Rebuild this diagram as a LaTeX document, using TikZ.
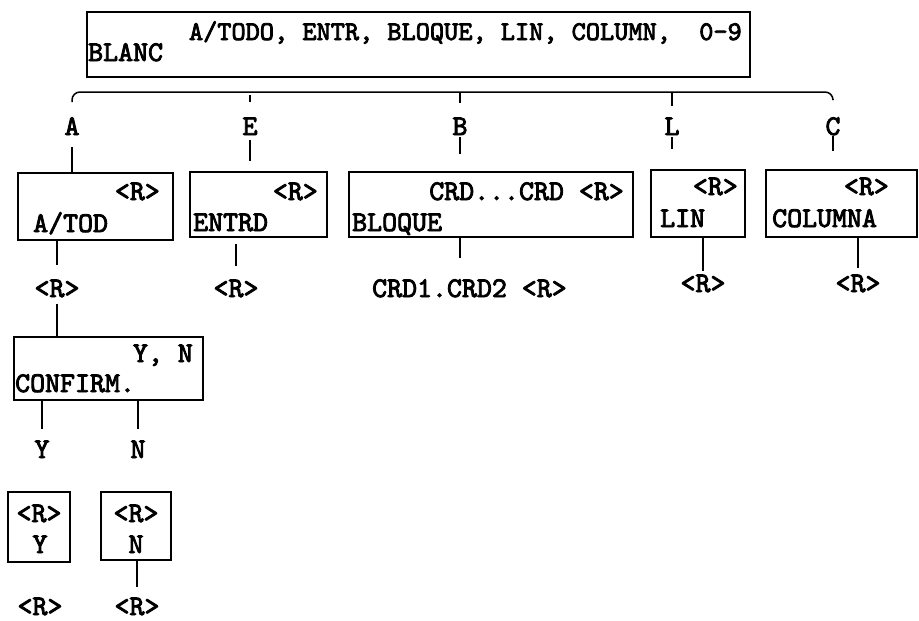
\documentclass[tikz,border=0pt]{standalone}
\usepackage{fontspec}
\newfontfamily\tw[FakeBold=3]{lmmono10-regular.otf}
\begin{document}
\frenchspacing
\begin{tikzpicture}[x=1pt,y=-1pt,
  box/.style={draw, line width=1.5pt, inner sep=0pt},
  txt/.style={inner sep=0pt, font=\fontsize{28.5}{28.5}\tw},
  toptxt/.style={inner sep=0pt, font=\fontsize{27}{27}\tw},
  conn/.style={line width=1.5pt}]
\useasboundingbox (0,0) rectangle (919,621);
% boxes
\node[box, minimum width=663pt, minimum height=65pt] (top) at (418.5,44.5) {};
\node[box, minimum width=155pt, minimum height=67pt] (boxA) at (95.5,206.5) {};
\node[box, minimum width=137pt, minimum height=65pt] (boxE) at (258.5,204.5) {};
\node[box, minimum width=284pt, minimum height=65pt] (boxB) at (491,204.5) {};
\node[box, minimum width=94pt, minimum height=67pt] (boxL) at (698,203.5) {};
\node[box, minimum width=151pt, minimum height=67pt] (boxC) at (841.5,203.5) {};
\node[box, minimum width=189pt, minimum height=63pt] (boxConf) at (108.5,368.5) {};
\node[box, minimum width=62pt, minimum height=70pt] (boxY) at (39,527) {};
\node[box, minimum width=70pt, minimum height=68pt] (boxN) at (136,526) {};
% box texts
\node[toptxt, anchor=base east] (topa) at (742,40) {A/TODO, ENTR, BLOQUE, LIN, COLUMN,\ \ 0-9};
\node[txt, anchor=base west] (topb) at (88,61) {BLANC};
\node[txt, anchor=base east] (boxAa) at (160,200) {<R>};
\node[txt, anchor=base west] (boxAb) at (33,232) {A/TOD};
\node[txt, anchor=base east] (boxEa) at (318,200) {<R>};
\node[txt, anchor=base west] (boxEb) at (193,231) {ENTRD};
\node[txt, anchor=base east] (boxBa) at (624,200) {CRD...CRD <R>};
\node[txt, anchor=base west] (boxBb) at (352,231) {BLOQUE};
\node[txt, anchor=base east] (boxLa) at (738,195) {<R>};
\node[txt, anchor=base west] (boxLb) at (660,227) {LIN};
\node[txt, anchor=base east] (boxCa) at (889,195) {<R>};
\node[txt, anchor=base west] (boxCb) at (772,227) {COLUMNA};
\node[txt, anchor=base east] (confa) at (193,362) {Y, N};
\node[txt, anchor=base west] (confb) at (15,392) {CONFIRM.};
\node[txt, anchor=base] (boxYa) at (39,522) {<R>};
\node[txt, anchor=base] (boxYb) at (40,553) {Y};
\node[txt, anchor=base] (boxNa) at (136,522) {<R>};
\node[txt, anchor=base] (boxNb) at (136,553) {N};
% branch labels
\node[txt, anchor=base] (labA) at (72,135) {A};
\node[txt, anchor=base] (labE) at (250,135) {E};
\node[txt, anchor=base] (labB) at (460,135) {B};
\node[txt, anchor=base] (labL) at (672,135) {L};
\node[txt, anchor=base] (labC) at (833,135) {C};
% outputs
\node[txt, anchor=base] (rA) at (57,297) {<R>};
\node[txt, anchor=base] (rE) at (236,297) {<R>};
\node[txt, anchor=base west] (rB) at (372,297) {CRD1.CRD2 <R>};
\node[txt, anchor=base] (rL) at (703,292) {<R>};
\node[txt, anchor=base] (rC) at (858,292) {<R>};
\node[txt, anchor=base] (rCY) at (42,458) {Y};
\node[txt, anchor=base] (rCN) at (138,458) {N};
\node[txt, anchor=base] (rY) at (40,615) {<R>};
\node[txt, anchor=base] (rN) at (137,615) {<R>};
% top bar
\coordinate (bar) at (0,92);
\draw[conn, rounded corners=8pt] ([yshift=15pt]labA.north) -- (labA.north |- bar) -- (labC.north |- bar) -- ([yshift=18pt]labC.north);
\draw[conn] ([yshift=22pt]labE.north) -- ([yshift=15pt]labE.north);
\draw[conn, shorten >=14pt] (labB.north |- bar) -- (labB.north);
\draw[conn] ([yshift=25pt]labL.north) -- ([yshift=11pt]labL.north);
% labels to boxes
\draw[conn, shorten <=12pt] (labA.south) -- (labA.south |- boxA.north);
\draw[conn, shorten <=5pt, shorten >=10pt] (labE.south) -- (labE.south |- boxE.north);
\draw[conn, shorten <=2pt, shorten >=17pt] (labB.south) -- (labB.south |- boxB.north);
\draw[conn, shorten <=2pt, shorten >=20pt] (labL.south) -- (labL.south |- boxL.north);
\draw[conn, shorten <=0pt, shorten >=18pt] (labC.south) -- (labC.south |- boxC.north);
% boxes to outputs
\draw[conn, shorten >=14pt] (rA.north |- boxA.south) -- (rA.north);
\draw[conn, shorten <=6pt] (rA.south) -- (rA.south |- boxConf.north);
\draw[conn, shorten <=6pt, shorten >=13pt] (rE.north |- boxE.south) -- (rE.north);
\draw[conn, shorten >=21pt] (labB.south |- boxB.south) -- (labB.south |- rB.north);
\draw[conn, shorten >=3pt] (rL.north |- boxL.south) -- (rL.north);
\draw[conn, shorten >=6pt] (rC.north |- boxC.south) -- (rC.north);
\draw[conn, shorten >=11pt] (rCY.north |- boxConf.south) -- (rCY.north);
\draw[conn, shorten >=11pt] (rCN.north |- boxConf.south) -- (rCN.north);
\draw[conn, shorten >=10pt] (rN.north |- boxN.south) -- (rN.north);
\end{tikzpicture}
\end{document}
